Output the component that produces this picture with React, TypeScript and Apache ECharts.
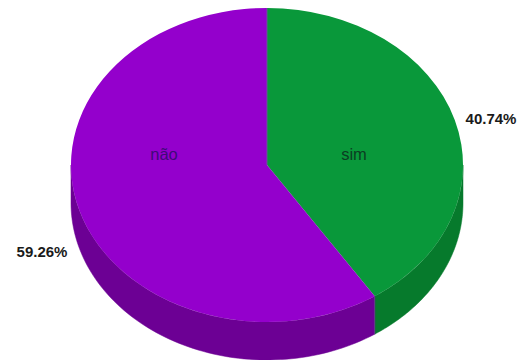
import React, { useEffect, useRef } from "react";
import * as echarts from "echarts";

const categories = ["sim", "não"];
const shares = [40.74, 59.26];
const percentLabels = ["40.74%", "59.26%"];
const topColors = ["#09983a", "#9400cc"];
const sideColors = ["#067a2c", "#6c0094"];
const nameColors = ["#0b3d22", "#3f0a78"];

const CX = 267;
const CY = 165;
const RX = 196;
const RY = 157;
const DEPTH = 38;
const total = shares.reduce((a, b) => a + b, 0);

// Point on the rim, angle in radians clockwise from 12 o'clock.
const rim = (a: number, dy = 0) => [CX + RX * Math.sin(a), CY + dy - RY * Math.cos(a)];

function sliceAngles(index: number) {
  const before = shares.slice(0, index).reduce((a, b) => a + b, 0);
  return [(before / total) * 2 * Math.PI, ((before + shares[index]) / total) * 2 * Math.PI];
}

// Side wall: only the part of the rim facing the viewer (90deg to 270deg).
function wallPoints(from: number, to: number) {
  const a0 = Math.max(from, Math.PI / 2);
  const a1 = Math.min(to, (3 * Math.PI) / 2);
  if (a1 <= a0) return null;
  const upper: number[][] = [];
  const lower: number[][] = [];
  const steps = 80;
  for (let i = 0; i <= steps; i++) {
    const a = a0 + ((a1 - a0) * i) / steps;
    upper.push(rim(a));
    lower.unshift(rim(a, DEPTH));
  }
  return upper.concat(lower);
}

const labelOffsets = [
  { name: [354, 154], pct: [491, 118] },
  { name: [164, 154], pct: [42, 251] },
];

export default function App() {
  const ref = useRef<HTMLDivElement>(null);
  useEffect(() => {
    const chart = echarts.init(ref.current!, undefined, { renderer: "svg" });
    chart.setOption({
      animation: false,
      backgroundColor: "#ffffff",
      series: [
        {
          type: "custom",
          coordinateSystem: "none",
          silent: true,
          data: shares.map((v, i) => [i, v]),
          renderItem: (params: any) => {
            const i = params.dataIndex;
            const [a0, a1] = sliceAngles(i);
            const children: any[] = [];
            const wall = wallPoints(a0, a1);
            if (wall) {
              children.push({
                type: "polygon",
                z2: 1,
                shape: { points: wall },
                style: { fill: sideColors[i], stroke: sideColors[i], lineWidth: 0.5 },
              });
            }
            children.push({
              type: "sector",
              z2: 2,
              x: CX,
              y: CY,
              scaleY: RY / RX,
              shape: {
                cx: 0,
                cy: 0,
                r: RX,
                r0: 0,
                startAngle: a0 - Math.PI / 2,
                endAngle: a1 - Math.PI / 2,
                clockwise: true,
              },
              style: { fill: topColors[i] },
            });
            // Seams between the slices: the radius at each slice's start and the wall edge below it.
            const [sx, sy] = rim(a0);
            children.push({
              type: "line",
              z2: 3,
              shape: { x1: CX, y1: CY, x2: sx, y2: sy },
              style: { stroke: "#6a5a9a", lineWidth: 1, opacity: i === 0 ? 0.9 : 0.25 },
            });
            if (i === 1) {
              children.push({
                type: "line",
                z2: 3,
                shape: { x1: sx, y1: sy, x2: sx, y2: sy + DEPTH },
                style: { stroke: "#5a4a80", lineWidth: 1, opacity: 0.8 },
              });
            }
            children.push({
              type: "text",
              z2: 5,
              x: labelOffsets[i].name[0],
              y: labelOffsets[i].name[1],
              style: {
                text: categories[i],
                fill: nameColors[i],
                font: "16.5px 'Liberation Sans', Arial, sans-serif",
                align: "center",
                verticalAlign: "middle",
              },
            });
            children.push({
              type: "text",
              z2: 5,
              x: labelOffsets[i].pct[0],
              y: labelOffsets[i].pct[1],
              style: {
                text: percentLabels[i],
                fill: "#1a1a1a",
                font: "bold 15px 'Liberation Sans', Arial, sans-serif",
                align: "center",
                verticalAlign: "middle",
              },
            });
            return { type: "group", children };
          },
        },
      ],
    });
    return () => chart.dispose();
  }, []);
  return <div ref={ref} style={{ position: "fixed", left: 0, top: 0, width: 517, height: 360 }} />;
}
